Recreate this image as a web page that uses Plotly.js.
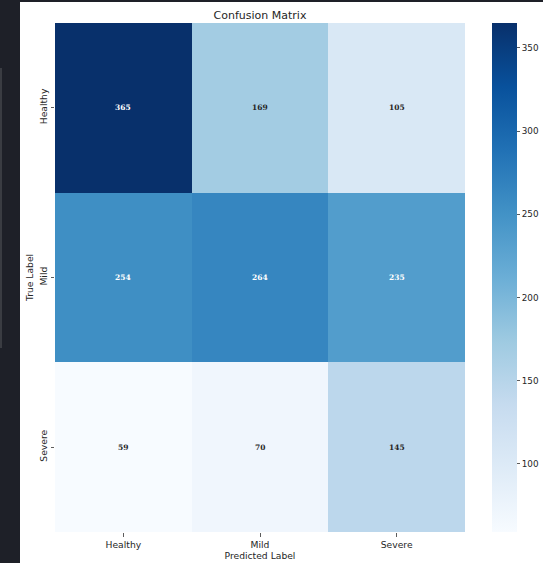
<!DOCTYPE html>
<html>
<head>
<meta charset="utf-8">
<script src="https://cdn.plot.ly/plotly-3.0.1.min.js"></script>
<style>
  html, body { margin: 0; padding: 0; background: #1e2028; }
  #chart { width: 543px; height: 563px; }
</style>
</head>
<body>
<div id="chart"></div>
<script>
// Class labels for predicted (columns) and true (rows) outcomes
const predictedLabels = ['Healthy', 'Mild', 'Severe'];
const trueLabels = ['Healthy', 'Mild', 'Severe'];

// Counts per true class, one row each, in predicted-label order
const rowHealthy = [365, 169, 105];
const rowMild = [254, 264, 235];
const rowSevere = [59, 70, 145];

const counts = [rowHealthy, rowMild, rowSevere];

// Colorbar tick values
const colorbarTicks = [100, 150, 200, 250, 300, 350];

// Sequential blue palette (light to dark)
const bluesScale = [
  [0.000, '#f7fbff'],
  [0.125, '#deebf7'],
  [0.250, '#c6dbef'],
  [0.375, '#9ecae1'],
  [0.500, '#6baed6'],
  [0.625, '#4292c6'],
  [0.750, '#2171b5'],
  [0.875, '#08519c'],
  [1.000, '#08306b']
];

const flat = counts.flat();
const zMin = Math.min(...flat);
const zMax = Math.max(...flat);

const labelFont = { family: 'DejaVu Sans', size: 9.2, color: '#262626' };

// Cell annotations: light text on dark cells, dark text on light cells
const annotations = [];
counts.forEach((row, i) => {
  row.forEach((v, j) => {
    const frac = (v - zMin) / (zMax - zMin);
    annotations.push({
      x: predictedLabels[j],
      y: trueLabels[i],
      xref: 'x', yref: 'y',
      text: '<b>' + v + '</b>',
      showarrow: false,
      font: { family: 'DejaVu Serif', size: 7.5, color: frac > 0.5 ? '#ffffff' : '#262626' }
    });
  });
});

const trace = {
  type: 'heatmap',
  x: predictedLabels,
  y: trueLabels,
  z: counts,
  zmin: zMin,
  zmax: zMax,
  colorscale: bluesScale,
  xgap: 0, ygap: 0,
  hoverongaps: false,
  colorbar: {
    x: (492 - 55) / 410,
    xanchor: 'left',
    xref: 'paper',
    y: 0.5,
    yanchor: 'middle',
    len: 1,
    lenmode: 'fraction',
    thickness: 25,
    thicknessmode: 'pixels',
    outlinewidth: 0,
    tickvals: colorbarTicks,
    ticks: 'outside',
    ticklen: 3.5,
    tickwidth: 0.8,
    tickcolor: '#333333',
    tickfont: { family: 'DejaVu Sans', size: 8.8, color: '#262626' },
    ypad: 0, xpad: 0
  }
};

const layout = {
  width: 543,
  height: 563,
  margin: { l: 55, r: 78, t: 23, b: 31, pad: 0, autoexpand: false },
  paper_bgcolor: '#1e2028',
  plot_bgcolor: '#ffffff',
  font: labelFont,
  title: {
    text: 'Confusion Matrix',
    font: { family: 'DejaVu Sans', size: 11, color: '#262626' },
    x: 0.5, xref: 'paper', xanchor: 'center',
    y: 1, yref: 'paper', yanchor: 'bottom',
    pad: { b: 4 }
  },
  xaxis: {
    type: 'category',
    showgrid: false, zeroline: false, showline: false,
    ticks: 'outside', ticklen: 3.5, tickwidth: 0.8, tickcolor: '#333333',
    tickfont: labelFont,
    title: { text: 'Predicted Label', standoff: 2, font: labelFont },
    automargin: false,
    fixedrange: true
  },
  yaxis: {
    type: 'category',
    autorange: 'reversed',
    showgrid: false, zeroline: false, showline: false,
    ticks: 'outside', ticklen: 3.5, tickwidth: 0.8, tickcolor: '#333333',
    tickangle: -90,
    tickfont: labelFont,
    title: { text: 'True Label', standoff: 2, font: labelFont },
    automargin: false,
    fixedrange: true
  },
  shapes: [
    // white figure canvas
    {
      type: 'rect', layer: 'below',
      xref: 'paper', yref: 'paper',
      x0: (20 - 55) / 410, x1: (543 - 55) / 410,
      y0: -31 / 509, y1: (532 - 2) / 509,
      fillcolor: '#ffffff', line: { width: 0 }
    },
    // narrow panel edge on the far left
    {
      type: 'rect', layer: 'below',
      xref: 'paper', yref: 'paper',
      x0: (0 - 55) / 410, x1: (2 - 55) / 410,
      y0: (532 - 348) / 509, y1: (532 - 68) / 509,
      fillcolor: '#3a3c42', line: { width: 0 }
    }
  ],
  annotations: annotations
};

Plotly.newPlot('chart', [trace], layout, { staticPlot: true, displayModeBar: false });
</script>
</body>
</html>
